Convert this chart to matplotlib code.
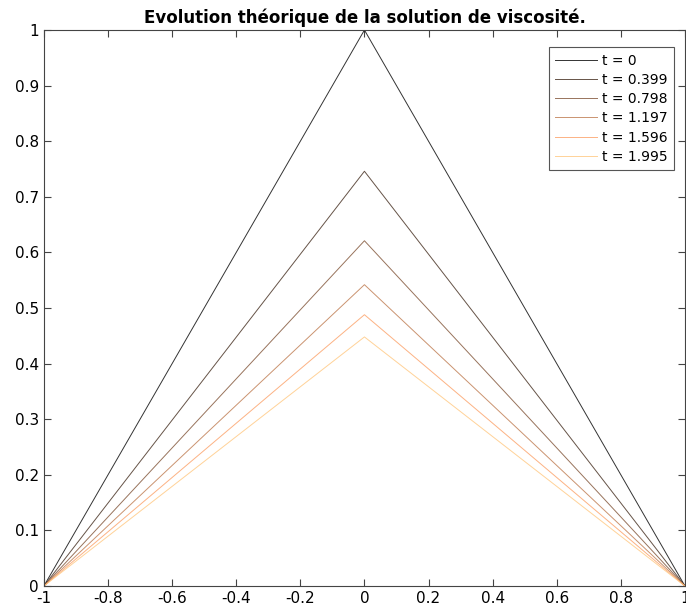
import matplotlib
matplotlib.use("Agg")
import matplotlib.pyplot as plt
import numpy as np

# temps et hauteur du pic
temps = [0, 0.399, 0.798, 1.197, 1.596, 1.995]
pics = [1.0, 0.746, 0.621, 0.542, 0.488, 0.448]
x_pts = [-1, 0, 1]

fig = plt.figure(figsize=(6.86, 6.13), dpi=100)
ax = fig.add_axes([0.064, 0.044, 0.9345, 0.907])

cmap = plt.get_cmap("copper")
for i, (t, h) in enumerate(zip(temps, pics)):
    c = cmap(i / (len(temps) - 1))
    ax.plot(x_pts, [0, h, 0], color=c, lw=0.7, alpha=0.8, label="t = %g" % t)

ax.set_xlim(-1, 1)
ax.set_ylim(0, 1)
ax.set_xticks(np.arange(-1, 1.01, 0.2))
ax.set_yticks(np.arange(0, 1.01, 0.1))
ax.set_xticklabels(["-1", "-0.8", "-0.6", "-0.4", "-0.2", "0", "0.2", "0.4", "0.6", "0.8", "1"])
ax.set_yticklabels(["0", "0.1", "0.2", "0.3", "0.4", "0.5", "0.6", "0.7", "0.8", "0.9", "1"])
ax.tick_params(direction="in", top=True, right=True, labelsize=11, length=5, color="#444444")
for s in ax.spines.values():
    s.set_color("#444444")
    s.set_linewidth(0.8)

ax.set_title("Evolution théorique de la solution de viscosité.", fontsize=12, fontweight="bold", pad=5)
leg = ax.legend(loc="upper right", bbox_to_anchor=(0.983, 0.969), borderaxespad=0,
                fontsize=10, handlelength=3.0, handletextpad=0.4, fancybox=False,
                framealpha=1, edgecolor="#555555", labelspacing=0.38, borderpad=0.45)
leg.get_frame().set_linewidth(0.8)

fig.savefig("out.png", dpi=100)
